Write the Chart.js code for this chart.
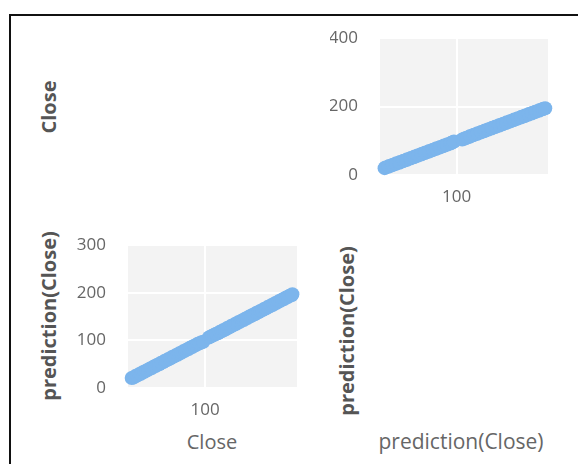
<!DOCTYPE html>
<html lang="en">
<head>
    <meta charset="UTF-8">
    <title>Close vs prediction(Close)</title>
    <script src="https://cdn.jsdelivr.net/npm/chart.js"></script>
    <style>
        body { margin: 0; background: #fff; font-family: "Open Sans", sans-serif; }
        .frame { position: absolute; left: 9px; top: 14px; width: 600px; height: 500px; border-left: 2px solid #111; border-top: 2px solid #111; }
        .panel { position: absolute; }
        .title { position: absolute; color: #666; font-size: 20px; white-space: nowrap; transform: translate(-50%, -50%); }
        .title.bold { font-weight: bold; color: #555; }
        .title.rot { transform: translate(-50%, -50%) rotate(-90deg); }
    </style>
</head>
<body>
    <div class="frame"></div>
    <div class="panel" style="left:330px; top:6px; width:230px; height:212px;"><canvas id="topRight"></canvas></div>
    <div class="panel" style="left:70px; top:213px; width:240px; height:212px;"><canvas id="bottomLeft"></canvas></div>

    <div class="title bold rot" style="left:48px; top:107px;">Close</div>
    <div class="title bold rot" style="left:48px; top:316px;">prediction(Close)</div>
    <div class="title bold rot" style="left:346px; top:331px;">prediction(Close)</div>
    <div class="title" style="left:212px; top:441px;">Close</div>
    <div class="title" style="left:461px; top:441px; font-size:21px;">prediction(Close)</div>

    <script>
// values
const close = [20, 22, 24, 26, 28, 30, 32, 34, 36, 38, 40, 42, 44, 46, 48, 50, 52, 54, 56, 58,
    60, 62, 64, 66, 68, 70, 72, 74, 76, 78, 80, 82, 84, 86, 88, 90, 92, 94, 96, 98,
    104, 106, 108, 110, 112, 114, 116, 118, 120, 122, 124, 126, 128, 130, 132, 134, 136, 138, 140, 142,
    144, 146, 148, 150, 152, 154, 156, 158, 160, 162, 164, 166, 168, 170, 172, 174, 176, 178, 180, 182,
    184, 186, 188, 190, 192, 194, 195];
const predicted = [21, 22, 25, 26, 29, 30, 33, 34, 37, 38, 41, 42, 45, 46, 49, 50, 53, 54, 57, 58,
    61, 62, 65, 66, 69, 70, 73, 74, 77, 78, 81, 82, 85, 86, 89, 90, 93, 94, 96, 97,
    106, 108, 110, 112, 114, 115, 118, 119, 122, 123, 126, 127, 130, 131, 134, 135, 138, 139, 142, 143,
    146, 147, 150, 151, 154, 155, 158, 159, 162, 163, 166, 167, 170, 171, 174, 175, 178, 179, 182, 183,
    186, 187, 190, 191, 194, 195, 197];

const xTicks = [100];
const yTicksTop = [0, 200, 400];
const yTicksBottom = [0, 100, 200, 300];

const plotBg = {
    id: 'plotBg',
    beforeDraw(chart) {
        const a = chart.chartArea;
        chart.ctx.save();
        chart.ctx.fillStyle = '#f3f3f3';
        chart.ctx.fillRect(a.left, a.top, a.right - a.left, a.bottom - a.top);
        chart.ctx.restore();
    }
};

function makeChart(id, xs, ys, yMax, yTicks, yWidth, xHeight, pad) {
    const pts = xs.map((x, i) => ({ x: x, y: ys[i] }));
    return new Chart(document.getElementById(id), {
        type: 'scatter',
        data: {
            datasets: [{
                data: pts,
                backgroundColor: '#7cb5ec',
                borderWidth: 0,
                pointRadius: 7,
                pointHoverRadius: 7,
                clip: false
            }]
        },
        options: {
            responsive: true,
            maintainAspectRatio: false,
            animation: false,
            layout: { padding: pad },
            plugins: { legend: { display: false }, tooltip: { enabled: false } },
            scales: {
                x: {
                    min: 16, max: 200,
                    afterBuildTicks: ax => { ax.ticks = xTicks.map(v => ({ value: v })); },
                    afterFit: ax => { ax.height = xHeight; },
                    grid: { color: '#ffffff', lineWidth: 2, drawTicks: false },
                    border: { display: false },
                    ticks: { color: '#666', font: { family: 'Open Sans', size: 17 }, padding: 12 }
                },
                y: {
                    min: 0, max: yMax,
                    afterBuildTicks: ax => { ax.ticks = yTicks.map(v => ({ value: v })); },
                    afterFit: ax => { ax.width = yWidth; },
                    grid: { color: '#ffffff', lineWidth: 2, drawTicks: false },
                    border: { display: false },
                    ticks: { color: '#666', font: { family: 'Open Sans', size: 17 }, padding: 22 }
                }
            }
        },
        plugins: [plotBg]
    });
}

// top row: y = Close, right column: x = prediction(Close)
makeChart('topRight', predicted, close, 400, yTicksTop, 50, 43, { top: 10, right: 12 });
// bottom row: y = prediction(Close), left column: x = Close
makeChart('bottomLeft', close, predicted, 300, yTicksBottom, 58, 37, { top: 10, right: 13 });
    </script>
</body>
</html>
